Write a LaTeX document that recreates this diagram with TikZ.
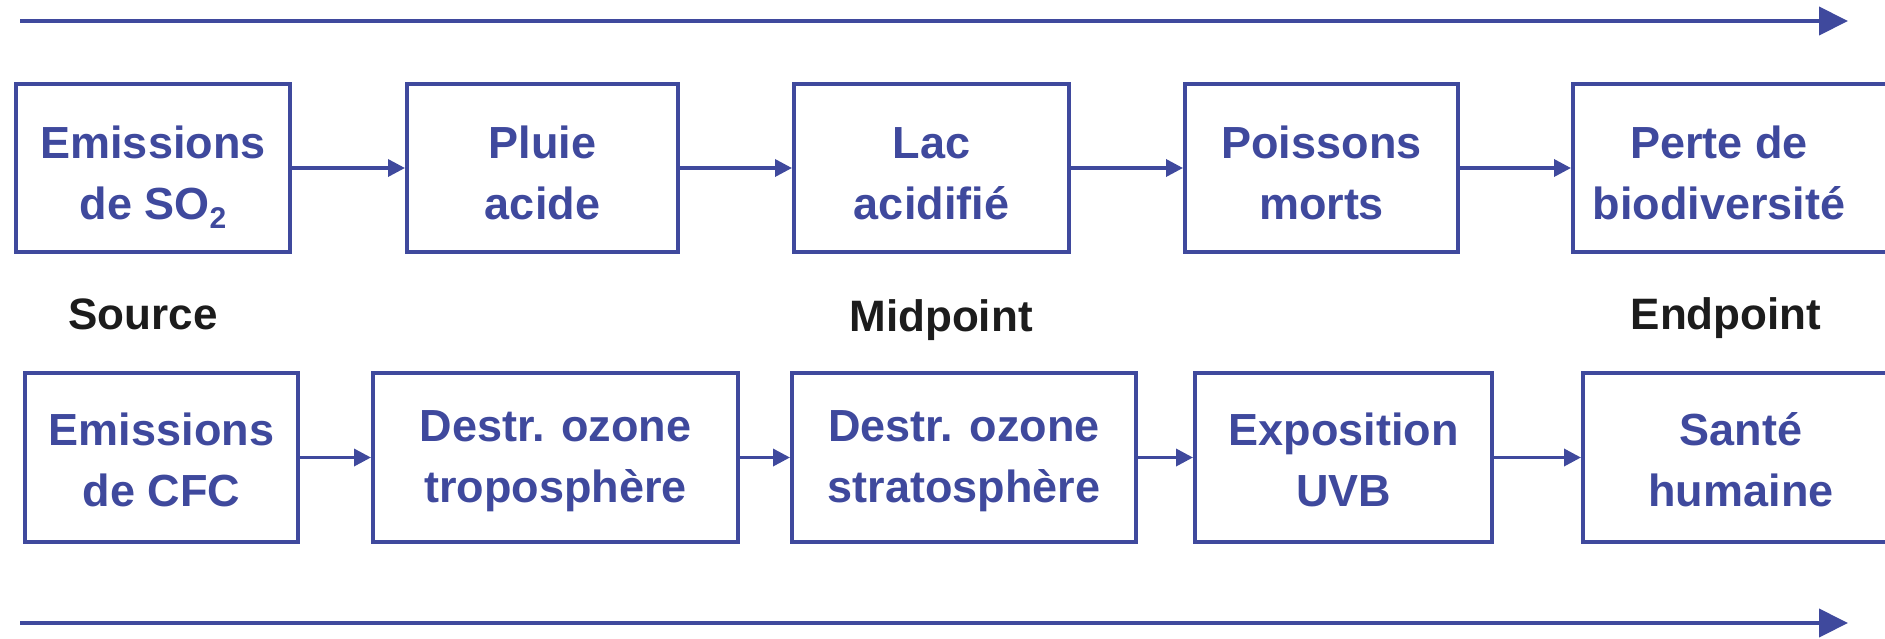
\documentclass[tikz,border=0pt]{standalone}
\usepackage{fontspec}
\setmainfont{Liberation Sans}
\usetikzlibrary{arrows.meta}
\definecolor{ink}{RGB}{63,73,157}
\definecolor{lab}{RGB}{28,28,28}
\newcommand\tstrutA{\rule{0pt}{21.5pt}}
\newcommand\tstrutB{\rule{0pt}{19pt}}
\newcommand\subtwo{{\fontsize{15pt}{15pt}\selectfont\raisebox{-4.5pt}[0pt][0pt]{2}}}
\tikzset{
  box/.style={draw=ink, line width=2pt, inner sep=0pt, text=ink, align=center,
    font=\fontsize{22.5pt}{30.5pt}\selectfont\bfseries},
  toprow/.style={box, minimum height=84pt},
  botrow/.style={box, minimum height=84.5pt},
  conn/.style={draw=ink, line width=1.75pt, -{Triangle[length=8.5pt,width=8.5pt]}},
  bigarrow/.style={draw=ink, line width=2pt, -{Triangle[length=14.5pt,width=14pt]}},
  stage/.style={anchor=base, text=lab, font=\fontsize{22pt}{26pt}\selectfont\bfseries, inner sep=0pt}
}
\begin{document}
\begin{tikzpicture}[x=1pt,y=-1pt]
\useasboundingbox (0,0) rectangle (942.5,319);
\clip (0,0) rectangle (942.5,319);
% long arrows
\coordinate (t0) at (10,10.5);
\coordinate (t1) at (924,10.5);
\coordinate (u0) at (10,311.5);
\coordinate (u1) at (924,311.5);
\draw[bigarrow] (t0) -- (t1);
\draw[bigarrow] (u0) -- (u1);
% top row
\node[toprow, minimum width=137pt] (a1) at (76.5,84) {\tstrutA Emissions\\de SO\subtwo};
\node[toprow, minimum width=135.5pt] (a2) at (271.25,84) {\tstrutA Pluie\\acide};
\node[toprow, minimum width=137.5pt] (a3) at (465.75,84) {\tstrutA Lac\\acidifié};
\node[toprow, minimum width=136.5pt] (a4) at (660.75,84) {\tstrutA Poissons\\morts};
\node[toprow, anchor=west] (a5) at (785.5,84) {\parbox{146pt}{\centering\tstrutA Perte de\\biodiversité}\hspace{60pt}};
\draw[conn] (a1) -- (a2);
\draw[conn] (a2) -- (a3);
\draw[conn] (a3) -- (a4);
\draw[conn] (a4) -- (a5);
% labels
\node[stage] (src) at (71.5,164.5) {Source};
\node[stage] (mid) at (470.5,165.5) {Midpoint};
\node[stage] (end) at (863,164.5) {Endpoint};
% bottom row
\node[botrow, minimum width=136.5pt] (b1) at (80.75,228.75) {\tstrutB Emissions\\de CFC};
\node[botrow, minimum width=182.5pt] (b2) at (277.75,228.75) {\tstrutB Destr. ozone\\troposphère};
\node[botrow, minimum width=172pt] (b3) at (482,228.75) {\tstrutB Destr. ozone\\stratosphère};
\node[botrow, minimum width=148.5pt] (b4) at (671.75,228.75) {\tstrutB Exposition\\UVB};
\node[botrow, anchor=west] (b5) at (790.5,228.75) {\parbox{158pt}{\centering\tstrutB Santé\\humaine}\hspace{60pt}};
\draw[conn] (b1) -- (b2);
\draw[conn] (b2) -- (b3);
\draw[conn] (b3) -- (b4);
\draw[conn] (b4) -- (b5);
\end{tikzpicture}
\end{document}
